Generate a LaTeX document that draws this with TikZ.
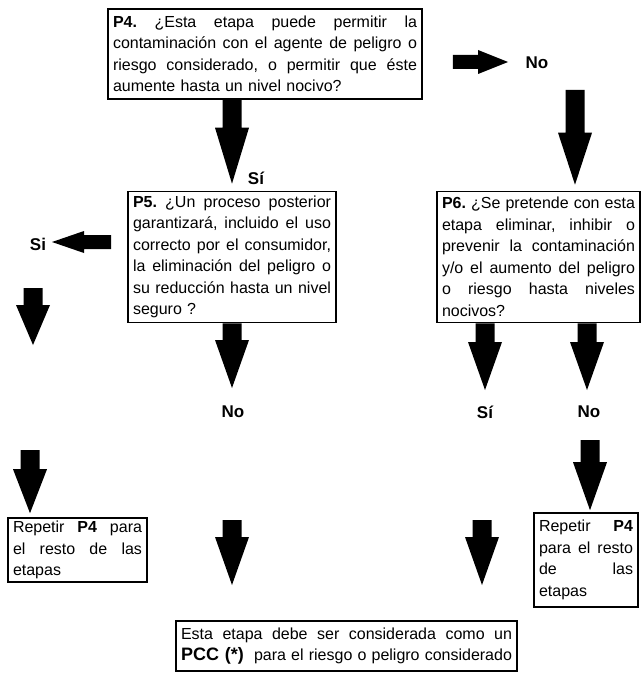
\documentclass[tikz,border=0pt]{standalone}
\usepackage{fontspec}
\setmainfont{Liberation Sans}
\usetikzlibrary{calc}
\setlength{\parindent}{0pt}
\frenchspacing
\newlength{\qw}
% block arrow: start, tip, half shaft width, half head width, head length
\newcommand\blockarrow[5]{%
  \path ($(#2)!#5!(#1)$) coordinate (ba-base);
  \fill[arrowfill] ($(#1)!#3!90:(#2)$) -- ($(ba-base)!#3!90:(#2)$)
    -- ($(ba-base)!#4!90:(#2)$) -- (#2) -- ($(ba-base)!#4!-90:(#2)$)
    -- ($(ba-base)!#3!-90:(#2)$) -- ($(#1)!#3!-90:(#2)$) -- cycle;}
% one justified line of a box (stretchable interword spaces)
\newcommand\fullline[1]{\makebox[\qw][s]{\spaceskip=0pt\xspaceskip=0pt #1}\\}
\begin{document}
\begin{tikzpicture}[x=1pt,y=-1pt,
  qbox/.style={draw, line width=1.6pt, inner xsep=5pt, inner ysep=3pt,
    align=left, font=\fontsize{16}{21.5}\selectfont,
    text width=#1, /utils/exec={\setlength{\qw}{#1}}},
  answer/.style={font=\fontsize{17}{20}\selectfont\bfseries, inner sep=2pt},
  arrowfill/.style={fill=black}]
\useasboundingbox[fill=white] (0,0) rectangle (643,676);

% question boxes
\node[qbox=304pt, minimum height=90pt] (p4) at (265,54) {%
\fullline{\textbf{P4.} ¿Esta etapa puede permitir la}
\fullline{contaminación con el agente de peligro o}
\fullline{riesgo considerado, o permitir que éste}
aumente hasta un nivel nocivo?};

\node[qbox=198pt, minimum height=131pt] (p5) at (232,257) {%
\fullline{\textbf{P5.} ¿Un proceso posterior}
\fullline{garantizará, incluido el uso}
\fullline{correcto por el consumidor,}
\fullline{la eliminación del peligro o}
\fullline{su reducción hasta un nivel}
seguro ?};

\node[qbox=193pt, minimum height=131pt] (p6) at (538.5,257) {%
\fullline{\textbf{P6.} ¿Se pretende con esta}
\fullline{etapa eliminar, inhibir o}
\fullline{prevenir la contaminación}
\fullline{y/o el aumento del peligro}
\fullline{o riesgo hasta niveles}
nocivos?};

\node[qbox=129pt, minimum height=64pt] (rl) at (77.5,550) {%
\fullline{Repetir \textbf{P4} para}
\fullline{el resto de las}
etapas};

\node[qbox=94pt, minimum height=94pt] (rr) at (586,560) {%
\fullline{Repetir \textbf{P4}}
\fullline{para el resto}
\fullline{de las}
etapas};

\node[qbox=331pt, minimum height=50pt] (pcc) at (346.5,646) {%
\fullline{Esta etapa debe ser considerada como un}
\makebox[\qw][s]{\spaceskip=0pt\xspaceskip=0pt {\fontsize{18}{21.5}\selectfont\bfseries PCC (*)}\ \ para el riesgo o peligro considerado}};

% answers
\node[answer] (no1) at (537,63) {No};
\node[answer] (si1) at (256,178) {Sí};
\node[answer] (si2) at (38,244) {Si};
\node[answer] (no2) at (233,412) {No};
\node[answer] (si3) at (485,412) {Sí};
\node[answer] (no3) at (589,412) {No};

% arrow end points
\coordinate (a2s) at ($(p4.east)+(30,8)$);
\coordinate (a2e) at (508,62);
\coordinate (a3s) at (575,90);
\coordinate (a3e) at ($(p6.north)+(36.5,-6)$);
\coordinate (a4s) at ($(p5.west)+(-16,-15)$);
\coordinate (a4e) at (52,242);
\coordinate (a5s) at (33,288);
\coordinate (a5e) at (33,345);
\coordinate (a6s) at (30,450);
\coordinate (a6e) at ($(rl.north)+(-47.5,-4)$);
\coordinate (a7e) at (232,388);
\coordinate (a8s) at (232,520);
\coordinate (a8e) at (232,585);
\coordinate (a9e) at (485,390);
\coordinate (a10e) at (587,390);
\coordinate (a11s) at (482,520);
\coordinate (a11e) at (482,585);
\coordinate (a12s) at (590,440);
\coordinate (a12e) at ($(rr.north)+(4,-2)$);

% block arrows
\blockarrow{$(p4.south)+(-33,0)$}{$(p5.north)+(0,-7)$}{9.5pt}{17pt}{56pt}
\blockarrow{a2s}{a2e}{7pt}{12pt}{30pt}
\blockarrow{a3s}{a3e}{9.5pt}{17pt}{52pt}
\blockarrow{a4s}{a4e}{7pt}{11pt}{32pt}
\blockarrow{a5s}{a5e}{9.5pt}{17pt}{40pt}
\blockarrow{a6s}{a6e}{9.5pt}{17pt}{44pt}
\blockarrow{p5.south}{a7e}{9.5pt}{17pt}{48pt}
\blockarrow{a8s}{a8e}{9.5pt}{17pt}{48pt}
\blockarrow{$(p6.south)+(-53.5,0)$}{a9e}{9.5pt}{17pt}{48pt}
\blockarrow{$(p6.south)+(48.5,0)$}{a10e}{9.5pt}{17pt}{48pt}
\blockarrow{a11s}{a11e}{9.5pt}{17pt}{48pt}
\blockarrow{a12s}{a12e}{9.5pt}{17pt}{48pt}
\end{tikzpicture}
\end{document}
